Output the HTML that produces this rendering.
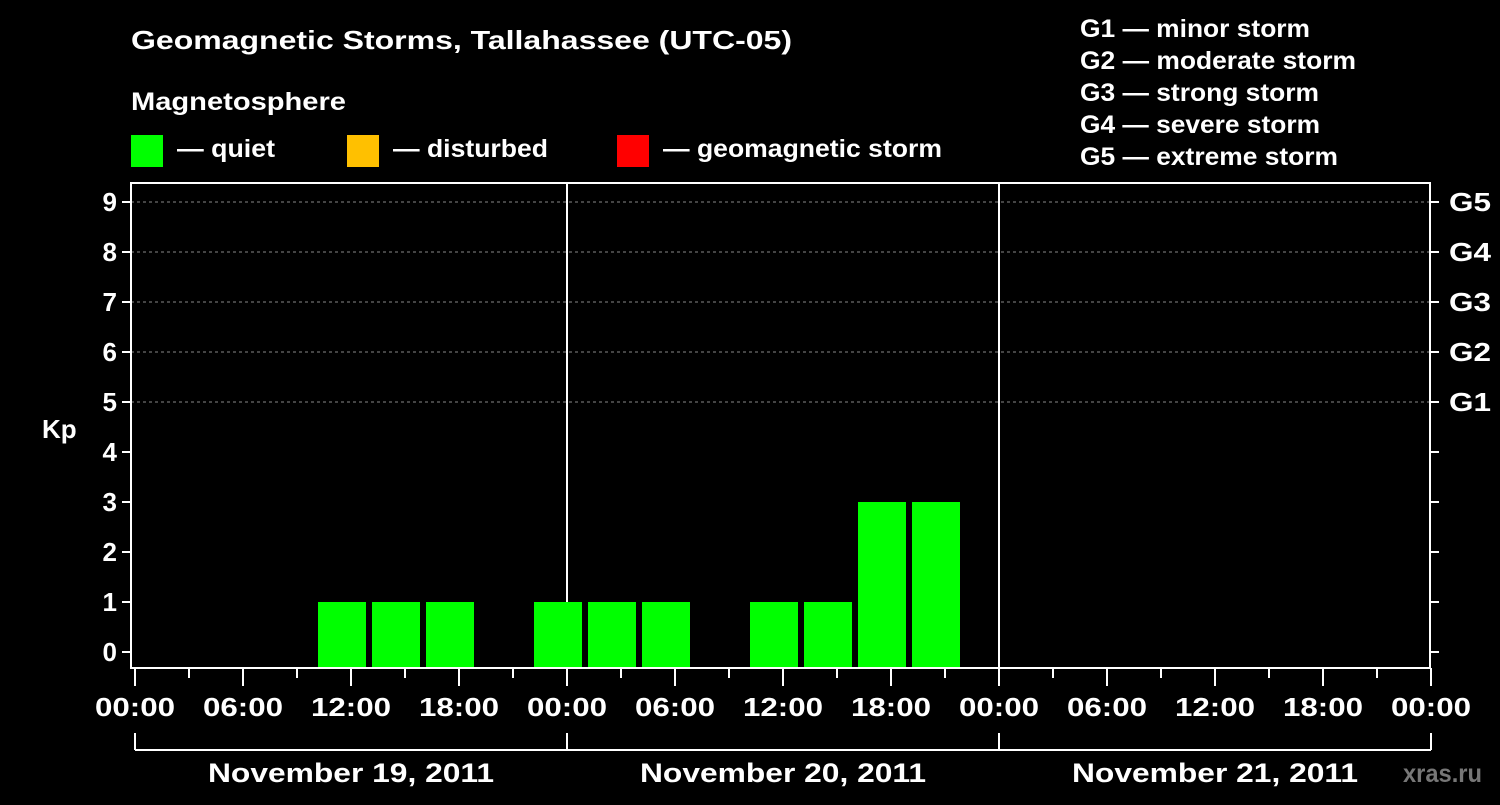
<!DOCTYPE html>
<html><head><meta charset="utf-8"><style>
body{margin:0;background:#000;width:1500px;height:800px;overflow:hidden}
svg text{font-family:"Liberation Sans",Arial,sans-serif;font-weight:bold;fill:#fff}
</style></head><body>
<svg id="chart" width="1500" height="800" xmlns="http://www.w3.org/2000/svg">
<rect width="1500" height="800" fill="#000"/>
<text x="131" y="49" font-size="26" textLength="661" lengthAdjust="spacingAndGlyphs">Geomagnetic Storms, Tallahassee (UTC-05)</text>
<text x="131" y="110" font-size="25" textLength="215" lengthAdjust="spacingAndGlyphs">Magnetosphere</text>
<g>
<rect x="131" y="135" width="32" height="32" fill="#00ff00"/>
<text x="177" y="157" font-size="25" textLength="98" lengthAdjust="spacingAndGlyphs">— quiet</text>
<rect x="347" y="135" width="32" height="32" fill="#ffc000"/>
<text x="393" y="157" font-size="25" textLength="155" lengthAdjust="spacingAndGlyphs">— disturbed</text>
<rect x="617" y="135" width="32" height="32" fill="#ff0000"/>
<text x="663" y="157" font-size="25" textLength="279" lengthAdjust="spacingAndGlyphs">— geomagnetic storm</text>
</g>
<g font-size="25">
<text x="1080" y="37" textLength="230" lengthAdjust="spacingAndGlyphs">G1 — minor storm</text>
<text x="1080" y="69" textLength="276" lengthAdjust="spacingAndGlyphs">G2 — moderate storm</text>
<text x="1080" y="101" textLength="239" lengthAdjust="spacingAndGlyphs">G3 — strong storm</text>
<text x="1080" y="133" textLength="240" lengthAdjust="spacingAndGlyphs">G4 — severe storm</text>
<text x="1080" y="165" textLength="258" lengthAdjust="spacingAndGlyphs">G5 — extreme storm</text>
</g>
<text x="42" y="438" font-size="26">Kp</text>
<text x="1403" y="782" font-size="25" style="fill:#777" textLength="79" lengthAdjust="spacingAndGlyphs">xras.ru</text>
<g id="grid"></g><g id="bars"></g><g id="axes"></g>
</svg>
<script>
const kpValues=[null,null,null,1,1,1,null,1,1,1,null,1,1,3,3,null,null,null,null,null,null,null,null,null];
const dayLabels=["November 19, 2011","November 20, 2011","November 21, 2011"];
const yTicks=[0,1,2,3,4,5,6,7,8,9];
const gLabels=["G1","G2","G3","G4","G5"];
const hourLabels=["00:00","06:00","12:00","18:00"];
const binStartHour=1; // local start of first 3h bin (UTC-05)

const NS="http://www.w3.org/2000/svg";
const X0=135,PX_H=18,LEFT=131,RIGHT=1430,TOP=183,BOT=668;
const xs=h=>X0+h*PX_H;
const ys=v=>652-v*50;
function mk(tag,attrs,parent){const e=document.createElementNS(NS,tag);for(const k in attrs)e.setAttribute(k,attrs[k]);document.getElementById(parent).appendChild(e);return e;}
for(let v=5;v<=9;v++){
 const l=mk("line",{x1:LEFT,x2:RIGHT,y1:ys(v),y2:ys(v),stroke:"#888","stroke-dasharray":"3,3","stroke-width":1},"grid");
 
 
}
for(let d=1;d<dayLabels.length;d++){
 const l=mk("line",{x1:xs(d*24),x2:xs(d*24),y1:TOP,y2:BOT,stroke:"#fff","stroke-width":2},"grid");
 
 
}
kpValues.forEach((v,i)=>{
 if(v===null)return;
 const h0=binStartHour+i*3;
 const c=v<4?"#00ff00":(v<5?"#ffc000":"#ff0000");
 const r=mk("rect",{x:xs(h0)+3,y:ys(v),width:3*PX_H-6,height:BOT-ys(v),fill:c},"bars");
 
 
});
const fr=mk("rect",{x:LEFT,y:TOP,width:RIGHT-LEFT,height:BOT-TOP,fill:"none",stroke:"#fff","stroke-width":2},"axes");


yTicks.forEach(v=>{
 const y=ys(v);
 mk("line",{x1:LEFT-9,x2:LEFT,y1:y,y2:y,stroke:"#fff","stroke-width":2},"axes");
 mk("line",{x1:RIGHT,x2:RIGHT+9,y1:y,y2:y,stroke:"#fff","stroke-width":2},"axes");
 const t=mk("text",{x:LEFT-14,y:y+9,"text-anchor":"end","font-size":26},"axes");t.textContent=v;
 
 
 if(v>=5){const g=mk("text",{x:1449,y:y+9,"font-size":26,textLength:42,lengthAdjust:"spacingAndGlyphs"},"axes");g.textContent=gLabels[v-5];
 
 }
});
const totalH=dayLabels.length*24;
for(let h=0;h<=totalH;h+=3){
 const x=xs(h),major=h%6===0;
 mk("line",{x1:x,x2:x,y1:BOT,y2:BOT+(major?18:10),stroke:"#fff","stroke-width":2},"axes");
 if(major){const t=mk("text",{x:x,y:716,"text-anchor":"middle","font-size":26,textLength:80,lengthAdjust:"spacingAndGlyphs"},"axes");t.textContent=hourLabels[(h%24)/6];
 
 }
}
const br=mk("line",{x1:xs(0),x2:xs(totalH),y1:750,y2:750,stroke:"#fff","stroke-width":2},"axes");


for(let d=0;d<=dayLabels.length;d++)mk("line",{x1:xs(d*24),x2:xs(d*24),y1:733,y2:750,stroke:"#fff","stroke-width":2},"axes");
dayLabels.forEach((s,d)=>{const t=mk("text",{x:xs(d*24+12),y:782,"text-anchor":"middle","font-size":27,textLength:286,lengthAdjust:"spacingAndGlyphs"},"axes");t.textContent=s;
 
 });
</script>
</body></html>
